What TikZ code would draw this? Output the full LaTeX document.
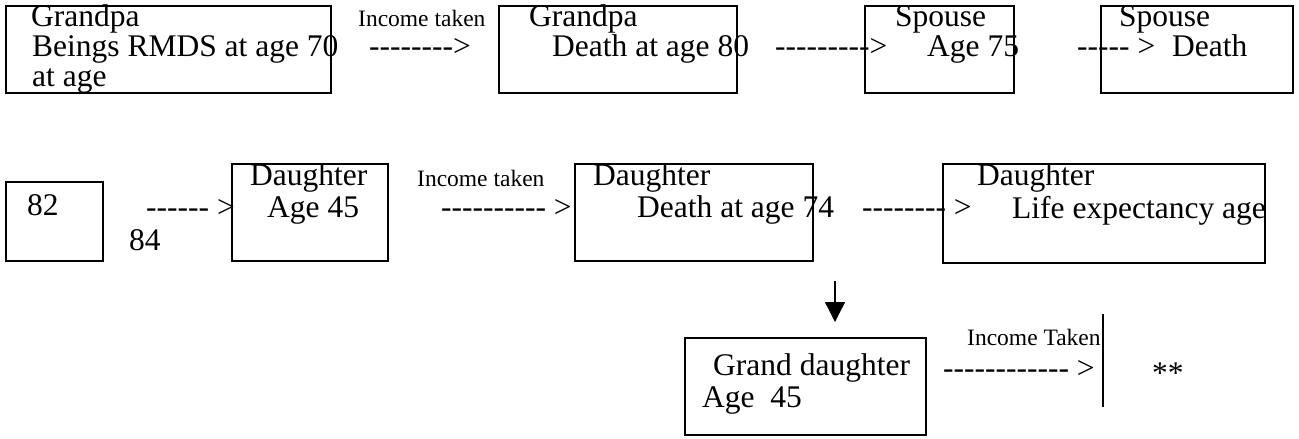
\documentclass[tikz,border=0pt]{standalone}
\usepackage{fontspec}
\setmainfont{Liberation Serif}[Ligatures=TeXOff]
\usetikzlibrary{arrows.meta}
\begin{document}
\begin{tikzpicture}[x=1pt,y=-1pt,
  box/.style={draw=black,line width=1.3pt,fill=none},
  big/.style={anchor=base west,inner sep=0pt,font=\fontsize{31.5}{30}\selectfont},
  small/.style={anchor=base west,inner sep=0pt,font=\fontsize{23.5}{24}\selectfont},
  downarrow/.style={line width=1.3pt,-{Triangle[width=20pt,length=20pt]}}]
\useasboundingbox (0,0) rectangle (1299,439);
% row 1 boxes
\draw[box] (6,6) rectangle (331,93);
\draw[box] (499,6) rectangle (737,93);
\draw[box] (865,6) rectangle (1014,93);
\draw[box] (1101,6) rectangle (1293,93);
% row 1 texts
\node[big] (g1a) at (31,26) {Grandpa};
\node[big] (g1b) at (32,56) {Beings RMDS at age 70};
\node[big] (g1c) at (32,86) {at age};
\node[small] (it1) at (358,26) {Income taken};
\node[big] (ar1) at (369,56) {-------->};
\node[big] (g2a) at (529,26) {Grandpa};
\node[big] (g2b) at (552,56) {Death at age 80};
\node[big] (ar2) at (775,56) {--------->};
\node[big] (s1a) at (895,26) {Spouse};
\node[big] (s1b) at (927,56) {Age 75};
\node[big] (ar3) at (1077,56) {----- >};
\node[big] (s2a) at (1119,26) {Spouse};
\node[big] (s2b) at (1172,56) {Death};
% row 2 boxes
\draw[box] (6,182) rectangle (103,261);
\draw[box] (232,164) rectangle (388,261);
\draw[box] (575,164) rectangle (813,261);
\draw[box] (943,164) rectangle (1265,263);
% row 2 texts
\node[big] (n82) at (27,215) {82};
\node[big] (ar4) at (146,217) {------ >};
\node[big] (n84) at (129,250) {84};
\node[big] (d1a) at (250,185) {Daughter};
\node[big] (d1b) at (267,217) {Age 45};
\node[small] (it2) at (417,186) {Income taken};
\node[big] (ar5) at (441,217) {---------- >};
\node[big] (d2a) at (593,185) {Daughter};
\node[big] (d2b) at (637,217) {Death at age 74};
\node[big] (ar6) at (862,217) {-------- >};
\node[big] (d3a) at (977,185) {Daughter};
\node[big] (d3b) at (1012,218) {Life expectancy age};
% down arrow
\coordinate (dA) at (835,281);
\coordinate (dB) at (835,322);
\draw[downarrow] (dA) -- (dB);
% row 3
\draw[box] (685,338) rectangle (926,435);
\node[big] (gda) at (713,375) {Grand daughter};
\node[big] (gdb) at (702,407) {Age\ \ 45};
\node[small] (it3) at (967,345) {Income Taken};
\node[big] (ar7) at (943,378) {------------ >};
\coordinate (vA) at (1103,314);
\coordinate (vB) at (1103,407);
\draw[line width=1.3pt] (vA) -- (vB);
\node[big] (st) at (1152,383) {**};
\end{tikzpicture}
\end{document}
